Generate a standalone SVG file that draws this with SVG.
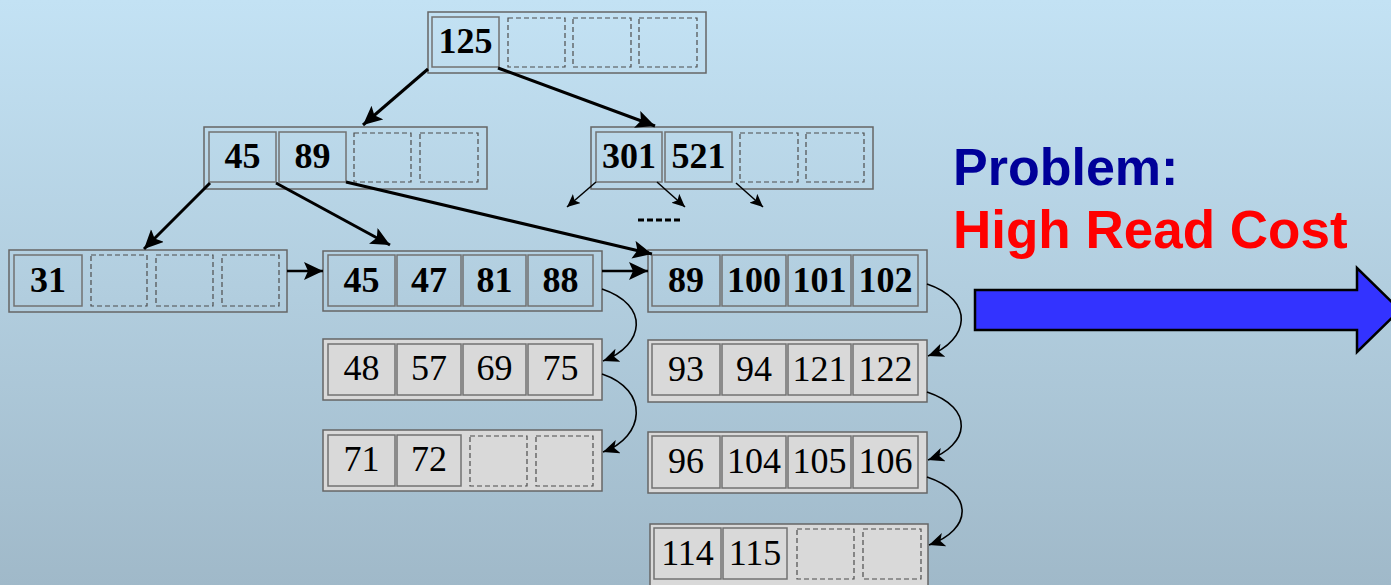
<svg xmlns="http://www.w3.org/2000/svg" width="1391" height="585" viewBox="0 0 1391 585">
  <defs>
    <linearGradient id="bg" x1="0" y1="0" x2="0" y2="1">
      <stop offset="0" stop-color="#c3e2f4"/>
      <stop offset="1" stop-color="#a0b9c9"/>
    </linearGradient>
    <marker id="headBig" markerUnits="userSpaceOnUse" markerWidth="22" markerHeight="20" refX="19" refY="9" orient="auto">
      <path d="M0,0 L19,9 L0,18 L4,9 Z" fill="#000"/>
    </marker>
    <marker id="headSmall" markerUnits="userSpaceOnUse" markerWidth="15" markerHeight="13" refX="13" refY="6" orient="auto">
      <path d="M0,0 L13,6 L0,12 L3,6 Z" fill="#000"/>
    </marker>
    <marker id="headCurve" markerUnits="userSpaceOnUse" markerWidth="18" markerHeight="16" refX="16" refY="7" orient="auto">
      <path d="M0,0 L16,7 L0,14 L4,7 Z" fill="#000"/>
    </marker>
  </defs>
  <style>
    .outer { fill: none; stroke: #666; stroke-width: 1.5; }
    .cell { fill: none; stroke: #727272; stroke-width: 1.5; }
    .gray { fill: #d9d9d9; }
    .dash { fill: none; stroke: #4d4d4d; stroke-width: 1.2; stroke-dasharray: 5 3; }
    .kb { font-family: "Liberation Serif", "Times New Roman", serif; font-size: 36px; font-weight: bold; text-anchor: middle; fill: #000; }
    .kn { font-family: "Liberation Serif", "Times New Roman", serif; font-size: 36px; text-anchor: middle; fill: #000; }
    .big { fill: none; stroke: #000; stroke-width: 3; marker-end: url(#headBig); }
    .small { fill: none; stroke: #000; stroke-width: 1.5; marker-end: url(#headSmall); }
    .curve { fill: none; stroke: #000; stroke-width: 1.6; marker-end: url(#headCurve); }
    .title { font-family: "Liberation Sans", Arial, sans-serif; font-size: 52px; font-weight: bold; }
  </style>

  <rect x="0" y="0" width="1391" height="585" fill="url(#bg)"/>

  <!-- root -->
  <g id="n125">
    <rect class="outer" x="428" y="12" width="278" height="61"/>
    <rect class="cell" x="432" y="17" width="67" height="50"/>
    <text class="kb" x="465.5" y="53">125</text>
    <rect class="dash" x="508" y="18" width="57" height="49"/>
    <rect class="dash" x="573" y="18" width="58" height="49"/>
    <rect class="dash" x="639" y="18" width="58" height="49"/>
  </g>

  <!-- inner level -->
  <g id="n45_89">
    <rect class="outer" x="204" y="127" width="283" height="62"/>
    <rect class="cell" x="209" y="132" width="67" height="50"/>
    <text class="kb" x="242.5" y="168">45</text>
    <rect class="cell" x="279" y="132" width="67" height="50"/>
    <text class="kb" x="312.5" y="168">89</text>
    <rect class="dash" x="354" y="133" width="57" height="49"/>
    <rect class="dash" x="420" y="133" width="58" height="49"/>
  </g>

  <g id="n301_521">
    <rect class="outer" x="591" y="127" width="282" height="62"/>
    <rect class="cell" x="596" y="132" width="66" height="50"/>
    <text class="kb" x="629" y="168">301</text>
    <rect class="cell" x="665" y="132" width="67" height="50"/>
    <text class="kb" x="698.5" y="168">521</text>
    <rect class="dash" x="740" y="133" width="58" height="49"/>
    <rect class="dash" x="806" y="133" width="58" height="49"/>
  </g>

  <!-- leaf level -->
  <g id="n31">
    <rect class="outer" x="9" y="250" width="278" height="62"/>
    <rect class="cell" x="14" y="255" width="68" height="51"/>
    <text class="kb" x="48" y="292">31</text>
    <rect class="dash" x="91" y="255" width="56" height="51"/>
    <rect class="dash" x="156" y="255" width="57" height="51"/>
    <rect class="dash" x="222" y="255" width="57" height="51"/>
  </g>

  <g id="n45_88">
    <rect class="outer" x="323" y="251" width="279" height="60"/>
    <rect class="cell" x="328" y="255" width="67" height="51"/>
    <text class="kb" x="361.5" y="292">45</text>
    <rect class="cell" x="397" y="255" width="64" height="51"/>
    <text class="kb" x="429" y="292">47</text>
    <rect class="cell" x="463" y="255" width="63" height="51"/>
    <text class="kb" x="494.5" y="292">81</text>
    <rect class="cell" x="528" y="255" width="65" height="51"/>
    <text class="kb" x="560.5" y="292">88</text>
  </g>

  <g id="n89_102">
    <rect class="outer" x="648" y="250" width="279" height="62"/>
    <rect class="cell" x="652" y="255" width="68" height="51"/>
    <text class="kb" x="686" y="292">89</text>
    <rect class="cell" x="722" y="255" width="64" height="51"/>
    <text class="kb" x="754" y="292">100</text>
    <rect class="cell" x="788" y="255" width="63" height="51"/>
    <text class="kb" x="819.5" y="292">101</text>
    <rect class="cell" x="853" y="255" width="65" height="51"/>
    <text class="kb" x="885.5" y="292">102</text>
  </g>

  <!-- overflow pages -->
  <g id="n48_75">
    <rect class="outer gray" x="323" y="339" width="279" height="61"/>
    <rect class="cell gray" x="328" y="344" width="67" height="51"/>
    <text class="kn" x="361.5" y="380">48</text>
    <rect class="cell gray" x="397" y="344" width="64" height="51"/>
    <text class="kn" x="429" y="380">57</text>
    <rect class="cell gray" x="463" y="344" width="63" height="51"/>
    <text class="kn" x="494.5" y="380">69</text>
    <rect class="cell gray" x="528" y="344" width="65" height="51"/>
    <text class="kn" x="560.5" y="380">75</text>
  </g>

  <g id="n71_72">
    <rect class="outer gray" x="323" y="430" width="279" height="61"/>
    <rect class="cell gray" x="328" y="435" width="67" height="51"/>
    <text class="kn" x="361.5" y="471">71</text>
    <rect class="cell gray" x="397" y="435" width="64" height="51"/>
    <text class="kn" x="429" y="471">72</text>
    <rect class="dash" x="470" y="436" width="57" height="50"/>
    <rect class="dash" x="536" y="436" width="57" height="50"/>
  </g>

  <g id="n93_122">
    <rect class="outer gray" x="648" y="340" width="279" height="62"/>
    <rect class="cell gray" x="652" y="344" width="68" height="51"/>
    <text class="kn" x="686" y="381">93</text>
    <rect class="cell gray" x="722" y="344" width="64" height="51"/>
    <text class="kn" x="754" y="381">94</text>
    <rect class="cell gray" x="788" y="344" width="63" height="51"/>
    <text class="kn" x="819.5" y="381">121</text>
    <rect class="cell gray" x="853" y="344" width="65" height="51"/>
    <text class="kn" x="885.5" y="381">122</text>
  </g>

  <g id="n96_106">
    <rect class="outer gray" x="648" y="432" width="279" height="61"/>
    <rect class="cell gray" x="652" y="436" width="68" height="52"/>
    <text class="kn" x="686" y="473">96</text>
    <rect class="cell gray" x="722" y="436" width="64" height="52"/>
    <text class="kn" x="754" y="473">104</text>
    <rect class="cell gray" x="788" y="436" width="63" height="52"/>
    <text class="kn" x="819.5" y="473">105</text>
    <rect class="cell gray" x="853" y="436" width="65" height="52"/>
    <text class="kn" x="885.5" y="473">106</text>
  </g>

  <g id="n114_115">
    <rect class="outer gray" x="650" y="524" width="278" height="70"/>
    <rect class="cell gray" x="654" y="528" width="67" height="51"/>
    <text class="kn" x="687.5" y="565">114</text>
    <rect class="cell gray" x="723" y="528" width="64" height="51"/>
    <text class="kn" x="755" y="565">115</text>
    <rect class="dash" x="797" y="529" width="57" height="50"/>
    <rect class="dash" x="863" y="529" width="58" height="50"/>
  </g>

  <!-- pointers and sibling links -->
  <g id="connectors">
    <path class="big" d="M428,69 L363,125"/>
    <path class="big" d="M498,68 L655,126"/>
    <path class="big" d="M210,183 L144,249"/>
    <path class="big" d="M276,183 L390,245"/>
    <path class="big" d="M346,182 L652,254"/>
    <path class="small" d="M596,182 L567,207"/>
    <path class="small" d="M657,182 L685,207"/>
    <path class="small" d="M736,183 L763,207"/>
    <line x1="638" y1="220" x2="682" y2="220" stroke="#000" stroke-width="3" stroke-dasharray="6 3"/>
    <path class="big" d="M287,271 L323,271" style="stroke-width:2.5"/>
    <path class="big" d="M602,271 L648,271" style="stroke-width:2.5"/>
    <path class="curve" d="M602,289 C650,305 645,345 603,361"/>
    <path class="curve" d="M602,374 C650,390 645,437 603,452"/>
    <path class="curve" d="M927,284 C975,300 970,340 928,356"/>
    <path class="curve" d="M927,392 C975,408 970,445 928,460"/>
    <path class="curve" d="M927,477 C975,493 972,530 929,545"/>
  </g>

  <!-- caption and block arrow -->
  <g id="caption">
    <text class="title" x="953" y="185" fill="#000099">Problem:</text>
    <text class="title" x="953" y="248" fill="#ff0000" style="font-size:53px">High Read Cost</text>
  </g>
  <g id="bigArrow">
    <polygon points="975,290 1357,290 1357,268 1400,310 1357,352 1357,330 975,330" fill="#3333ff" stroke="#000" stroke-width="2.5"/>
  </g>
</svg>
